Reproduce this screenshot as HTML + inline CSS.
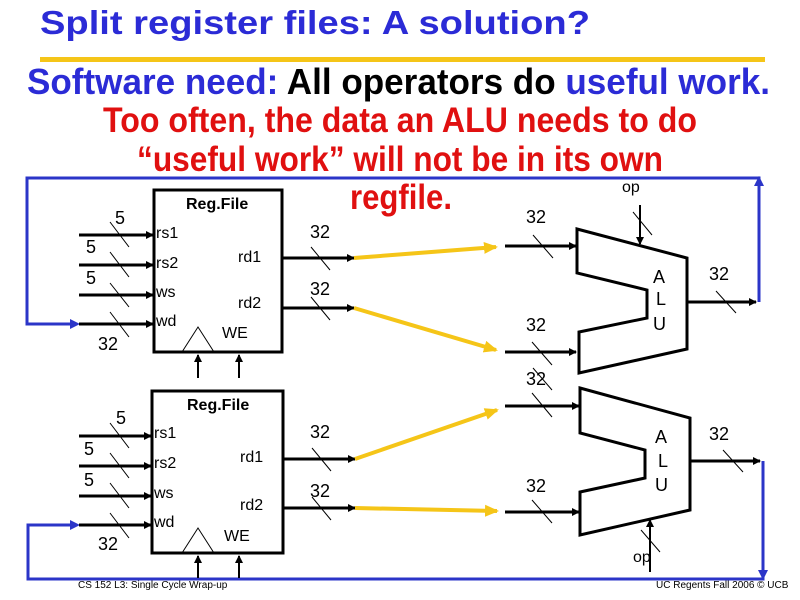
<!DOCTYPE html>
<html><head><meta charset="utf-8"><style>html,body{margin:0;padding:0;background:#fff;}svg{display:block}</style></head>
<body>
<svg width="800" height="600" viewBox="0 0 800 600" xmlns="http://www.w3.org/2000/svg" font-family="Liberation Sans, Arial, sans-serif">
<defs>
<marker id="a" markerWidth="8" markerHeight="8" refX="7" refY="4" orient="auto" markerUnits="userSpaceOnUse"><path d="M0,0 L8,4 L0,8 z" fill="#000"/></marker>
<marker id="ay" markerWidth="14" markerHeight="12" refX="12" refY="6" orient="auto" markerUnits="userSpaceOnUse"><path d="M0,0 L14,6 L0,12 z" fill="#f5c518"/></marker>
</defs>
<text x="40" y="34" font-size="33" font-weight="bold" fill="#2b2bd6" textLength="550" lengthAdjust="spacingAndGlyphs">Split register files: A solution?</text>
<rect x="40" y="57" width="725" height="5" fill="#f5c518"/>
<text x="27" y="94" font-size="36" font-weight="bold" textLength="743" lengthAdjust="spacingAndGlyphs"><tspan fill="#2b2bd6">Software need: </tspan><tspan fill="#000">All operators do </tspan><tspan fill="#2b2bd6">useful work.</tspan></text>
<g fill="#e01010" font-size="35" font-weight="bold">
<text x="103" y="132" textLength="594" lengthAdjust="spacingAndGlyphs">Too often, the data an ALU needs to do</text>
<text x="137" y="171" textLength="526" lengthAdjust="spacingAndGlyphs">“useful work” will not be in its own</text>
<text x="350" y="209" textLength="102" lengthAdjust="spacingAndGlyphs">regfile.</text>
</g>
<g stroke="#2b35c8" stroke-width="3" fill="none">
<polyline points="759,302 759,178 27,178 27,324 77,324"/>
<polyline points="763,461 763,579 28,579 28,525 77,525"/>
</g>
<g fill="#2b35c8"><path d="M70,319 L80,324 L70,329z"/><path d="M70,520 L80,525 L70,530z"/><path d="M754,186 L759,176 L764,186z"/><path d="M758,570 L763,580 L768,570z"/></g>
<g stroke="#000" stroke-width="3" fill="none">
<rect x="154" y="190" width="128" height="162"/>
<rect x="152" y="391" width="131" height="162"/>
<polygon points="577,229 687,258 687,349 579,373 579,332 647,318 647,290 577,273"/>
<polygon points="580,388 690,418 690,510 580,535 580,492 645,478 645,450 580,433"/>
</g>
<g stroke="#000" stroke-width="3" marker-end="url(#a)">
<line x1="79" y1="235" x2="153" y2="235"/><line x1="79" y1="265" x2="153" y2="265"/><line x1="79" y1="295" x2="153" y2="295"/><line x1="79" y1="324" x2="153" y2="324"/>
<line x1="79" y1="436" x2="151" y2="436"/><line x1="79" y1="466" x2="151" y2="466"/><line x1="79" y1="496" x2="151" y2="496"/><line x1="79" y1="525" x2="151" y2="525"/>
<line x1="282" y1="258" x2="354" y2="258"/><line x1="282" y1="308" x2="354" y2="308"/>
<line x1="283" y1="459" x2="355" y2="459"/><line x1="283" y1="508" x2="355" y2="508"/>
<line x1="505" y1="246" x2="576" y2="246"/><line x1="505" y1="352" x2="576" y2="352"/>
<line x1="505" y1="406" x2="579" y2="406"/><line x1="505" y1="512" x2="579" y2="512"/>
<line x1="687" y1="302" x2="756" y2="302"/><line x1="690" y1="461" x2="760" y2="461"/>
</g>
<g stroke="#000" stroke-width="2" marker-end="url(#a)">
<line x1="640" y1="205" x2="640" y2="244"/><line x1="650" y1="572" x2="650" y2="520"/>
<line x1="198" y1="378" x2="198" y2="355"/><line x1="239" y1="378" x2="239" y2="355"/>
<line x1="198" y1="578" x2="198" y2="556"/><line x1="239" y1="578" x2="239" y2="556"/>
</g>
<g stroke="#f5c518" stroke-width="4">
<line x1="354" y1="258" x2="496" y2="247" marker-end="url(#ay)"/>
<line x1="354" y1="308" x2="496" y2="350" marker-end="url(#ay)"/>
<line x1="355" y1="459" x2="497" y2="410" marker-end="url(#ay)"/>
<line x1="355" y1="508" x2="497" y2="511" marker-end="url(#ay)"/>
</g>
<g stroke="#000" stroke-width="1">
<path d="M110,222 L129,247 M110,252 L129,277 M110,283 L129,307 M110,312 L129,337 M311,247 L330,270 M311,297 L330,320 M533,235 L553,258 M532,342 L552,365 M633,212 L652,235 M716,291 L736,313"/>
<path d="M110,423 L129,448 M110,453 L129,478 M110,483 L129,508 M110,513 L129,538 M312,448 L331,471 M312,497 L331,520 M532,393 L552,417 M532,500 L552,523 M641,530 L660,552 M723,450 L743,472 M533,368 L552,390"/>
<path d="M182,352 L198,327 L214,352 M182,553 L198,528 L214,553" fill="none"/>
</g>
<g font-size="18" fill="#000">
<text x="115" y="224">5</text><text x="86" y="253">5</text><text x="86" y="284">5</text><text x="98" y="350">32</text>
<text x="116" y="424">5</text><text x="84" y="455">5</text><text x="84" y="486">5</text><text x="98" y="550">32</text>
<text x="310" y="238">32</text><text x="310" y="295">32</text><text x="526" y="223">32</text><text x="526" y="331">32</text><text x="709" y="280">32</text>
<text x="310" y="438">32</text><text x="310" y="497">32</text><text x="526" y="385">32</text><text x="526" y="492">32</text><text x="709" y="440">32</text>
<text x="653" y="283">A</text><text x="656" y="305">L</text><text x="653" y="330">U</text>
<text x="655" y="443">A</text><text x="658" y="467">L</text><text x="655" y="491">U</text>
<text x="156" y="238" font-size="16">rs1</text><text x="156" y="268" font-size="16">rs2</text><text x="156" y="297" font-size="16">ws</text><text x="156" y="326" font-size="16">wd</text>
<text x="238" y="262" font-size="16">rd1</text><text x="238" y="308" font-size="16">rd2</text><text x="222" y="338" font-size="16">WE</text>
<text x="154" y="438" font-size="16">rs1</text><text x="154" y="468" font-size="16">rs2</text><text x="154" y="498" font-size="16">ws</text><text x="154" y="527" font-size="16">wd</text>
<text x="240" y="462" font-size="16">rd1</text><text x="240" y="510" font-size="16">rd2</text><text x="224" y="541" font-size="16">WE</text>
<text x="186" y="209" font-size="16" font-weight="bold">Reg.File</text>
<text x="187" y="410" font-size="16" font-weight="bold">Reg.File</text>
<text x="622" y="192" font-size="16">op</text><text x="633" y="562" font-size="16">op</text>
</g>
<text x="78" y="588" font-size="10" fill="#000">CS 152 L3:  Single Cycle Wrap-up</text>
<text x="656" y="588" font-size="10" fill="#000">UC Regents Fall 2006 © UCB</text>
</svg>
</body></html>
